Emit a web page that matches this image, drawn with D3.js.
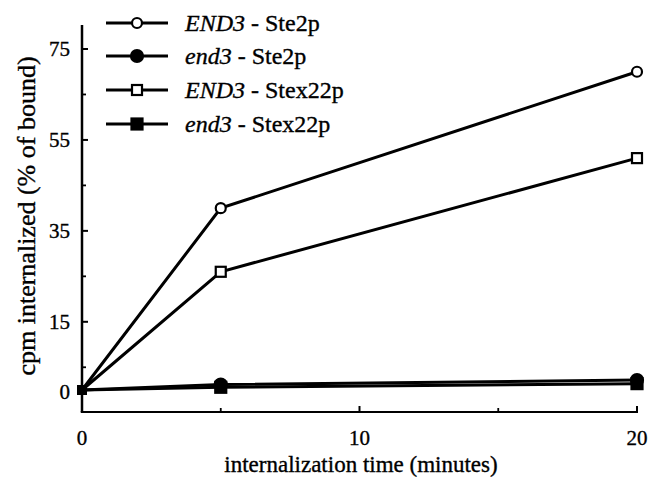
<!DOCTYPE html>
<html><head><meta charset="utf-8">
<script src="https://cdn.jsdelivr.net/npm/d3@7/dist/d3.min.js"></script>
<style>
body{margin:0;background:#fff;}
text{font-family:"Liberation Serif","Times New Roman",serif;fill:#000;stroke:#000;stroke-width:0.35px;}
</style></head>
<body><svg id="c" width="651" height="481"></svg>
<script>
const times = [0, 5, 20];
const END3_Ste2p = [0, 40, 70];
const end3_Ste2p = [0, 1.2, 2.2];
const END3_Stex22p = [0, 26, 51];
const end3_Stex22p = [0, 0.6, 1.4];
const xTicks = [0, 10, 20];
const xMinor = [5, 15];
const yTicks = [0, 15, 35, 55, 75];
const yMinor = [5, 25, 45, 65];
const seriesNames = [["END3", " - Ste2p"], ["end3", " - Ste2p"], ["END3", " - Stex22p"], ["end3", " - Stex22p"]];

const series = [
  {vals: END3_Ste2p, shape: "circle", filled: false},
  {vals: end3_Ste2p, shape: "circle", filled: true},
  {vals: END3_Stex22p, shape: "square", filled: false},
  {vals: end3_Stex22p, shape: "square", filled: true}
];

const svg = d3.select("#c");
const x = d3.scaleLinear().domain([0, 20]).range([82, 637]);
const y = d3.scaleLinear().domain([0, 75]).range([390, 49]);
const yBottom = 412, yTop = 25;

svg.append("line").attr("x1", x(0)).attr("x2", x(0)).attr("y1", yTop).attr("y2", yBottom)
  .attr("stroke", "#000").attr("stroke-width", 2.5);
svg.append("line").attr("x1", x(0) - 1.25).attr("x2", x(20) + 1).attr("y1", yBottom).attr("y2", yBottom)
  .attr("stroke", "#000").attr("stroke-width", 2.2);

const gy = svg.append("g");
gy.selectAll("line.maj").data(yTicks.filter(d => d > 0)).enter().append("line")
  .attr("x1", x(0)).attr("x2", x(0) + 6).attr("y1", d => y(d)).attr("y2", d => y(d))
  .attr("stroke", "#000").attr("stroke-width", 2);
gy.selectAll("line.min").data(yMinor).enter().append("line")
  .attr("x1", x(0)).attr("x2", x(0) + 4).attr("y1", d => y(d)).attr("y2", d => y(d))
  .attr("stroke", "#000").attr("stroke-width", 1.8);
gy.selectAll("text").data(yTicks).enter().append("text")
  .attr("x", 70).attr("y", d => y(d) + (d === 0 ? 2 : 0)).attr("dy", "0.35em")
  .attr("text-anchor", "end").attr("font-size", 21).text(d => d);

const gx = svg.append("g");
gx.selectAll("line.maj").data(xTicks.filter(d => d > 0)).enter().append("line")
  .attr("x1", d => x(d)).attr("x2", d => x(d)).attr("y1", yBottom).attr("y2", yBottom - 6)
  .attr("stroke", "#000").attr("stroke-width", 2);
gx.selectAll("line.min").data(xMinor).enter().append("line")
  .attr("x1", d => x(d)).attr("x2", d => x(d)).attr("y1", yBottom).attr("y2", yBottom - 4)
  .attr("stroke", "#000").attr("stroke-width", 1.8);
gx.selectAll("text").data(xTicks).enter().append("text")
  .attr("x", d => x(d)).attr("y", 438).attr("dy", "0.35em")
  .attr("text-anchor", "middle").attr("font-size", 21).text(d => d);

svg.append("text").attr("x", 361).attr("y", 464).attr("dy", "0.35em").attr("text-anchor", "middle")
  .attr("font-size", 23).text("internalization time (minutes)");
svg.append("text").attr("transform", "translate(26,216) rotate(-90)").attr("dy", "0.35em")
  .attr("text-anchor", "middle").attr("font-size", 26).text("cpm internalized (% of bound)");

const line = d3.line().x((d, i) => x(times[i])).y(d => y(d));
series.forEach(s => {
  svg.append("path").attr("d", line(s.vals)).attr("fill", "none")
    .attr("stroke", "#000").attr("stroke-width", 3);
});

function marker(g, cx, cy, s) {
  if (s.shape === "circle") {
    g.append("circle").attr("cx", cx).attr("cy", cy).attr("r", s.filled ? 6 : 5)
      .attr("fill", s.filled ? "#000" : "#fff").attr("stroke", "#000").attr("stroke-width", 2.2);
  } else {
    const h = s.filled ? 5.5 : 5;
    g.append("rect").attr("x", cx - h).attr("y", cy - h).attr("width", 2 * h).attr("height", 2 * h)
      .attr("fill", s.filled ? "#000" : "#fff").attr("stroke", "#000").attr("stroke-width", 2.2);
  }
}
series.forEach(s => {
  const g = svg.append("g");
  s.vals.forEach((v, i) => {
    if (i === 0) return;
    marker(g, x(times[i]), y(v), s);
  });
});
svg.append("rect").attr("x", x(0) - 5).attr("y", y(0) - 5).attr("width", 10).attr("height", 10).attr("fill", "#000");

const legY = [23, 56, 90, 124];
series.forEach((s, i) => {
  const g = svg.append("g");
  g.append("line").attr("x1", 106).attr("x2", 168).attr("y1", legY[i]).attr("y2", legY[i])
    .attr("stroke", "#000").attr("stroke-width", 3);
  marker(g, 137, legY[i], s);
  const t = g.append("text").attr("x", 185).attr("y", legY[i]).attr("dy", "0.35em").attr("font-size", 24);
  t.append("tspan").attr("font-style", "italic").text(seriesNames[i][0]);
  t.append("tspan").text(seriesNames[i][1]);
});
</script></body></html>
